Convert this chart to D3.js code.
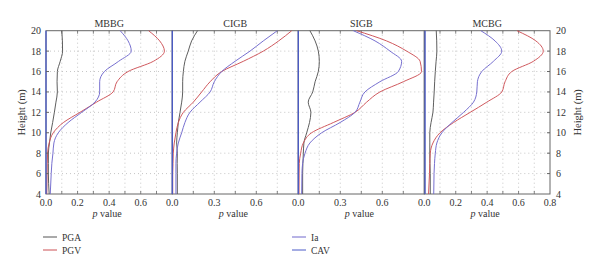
<!DOCTYPE html>
<html><head><meta charset="utf-8">
<script src="https://cdn.jsdelivr.net/npm/d3@7"></script>
<style>body{margin:0;background:#fff}svg{display:block;font-family:"Liberation Serif","DejaVu Serif",serif}</style>
</head><body><svg id="c" width="600" height="273"></svg>
<script>
const panels = ["MBBG","CIGB","SIGB","MCBG"];
const xMax = [0.8, 0.9, 0.9, 0.8];
const xTicks = [[0,0.2,0.4,0.6],[0,0.3,0.6],[0,0.3,0.6],[0,0.2,0.4,0.6,0.8]];
const xGridStep = [0.1, 0.15, 0.15, 0.1];
const yTicks = [4,6,8,10,12,14,16,18,20];
const heights = [4,6,7,8,9,10,11,12,13,14,15,16,17,18,19,20];
// PGA (grey)
const pga = [
 [0.02,0.015,0.015,0.015,0.022,0.03,0.042,0.053,0.063,0.072,0.07,0.072,0.09,0.105,0.104,0.1],
 [0.036,0.036,0.035,0.036,0.031,0.036,0.043,0.055,0.067,0.074,0.074,0.079,0.09,0.114,0.138,0.18],
 [0.031,0.031,0.033,0.036,0.04,0.06,0.08,0.09,0.071,0.103,0.12,0.143,0.15,0.143,0.12,0.083],
 [0.038,0.038,0.036,0.035,0.035,0.035,0.043,0.055,0.059,0.063,0.066,0.07,0.075,0.08,0.079,0.076]
];
// PGV (red)
const pgv = [
 [0.005,0.007,0.008,0.01,0.02,0.046,0.11,0.215,0.32,0.425,0.45,0.52,0.68,0.75,0.72,0.65],
 [0.003,0.003,0.005,0.007,0.014,0.026,0.043,0.079,0.15,0.21,0.27,0.353,0.507,0.65,0.76,0.853],
 [0.005,0.006,0.007,0.017,0.036,0.095,0.25,0.405,0.488,0.583,0.75,0.88,0.87,0.774,0.63,0.417],
 [0.027,0.033,0.035,0.038,0.055,0.1,0.186,0.292,0.398,0.493,0.514,0.557,0.694,0.757,0.71,0.59]
];
// Ia (purple)
const ia = [
 [0.027,0.033,0.037,0.044,0.05,0.078,0.14,0.226,0.31,0.34,0.34,0.37,0.46,0.54,0.52,0.47],
 [0.026,0.026,0.026,0.031,0.043,0.067,0.09,0.126,0.198,0.27,0.3,0.353,0.448,0.555,0.65,0.75],
 [0.024,0.026,0.031,0.048,0.083,0.167,0.298,0.405,0.44,0.476,0.583,0.714,0.738,0.655,0.548,0.393],
 [0.06,0.062,0.065,0.07,0.08,0.112,0.176,0.25,0.313,0.334,0.338,0.366,0.44,0.493,0.45,0.36]
];
// CAV (blue)
const cav = [
 [0,0,0,0,0,0,0,0,0,0,0,0,0,0,0,0],
 [0,0,0,0,0,0,0,0,0,0,0,0,0,0,0,0],
 [0,0,0,0,0,0,0,0,0,0,0,0,0,0,0,0],
 [0.005,0.005,0.005,0.005,0.005,0.005,0.005,0.005,0.005,0.005,0.005,0.005,0.005,0.005,0.005,0.005]
];
const seriesNames = ["PGA","PGV","Ia","CAV"];
const seriesData = [pga, pgv, ia, cav];
const colors = ["#555555","#cc5055","#7068cc","#4a5bc8"];

const svg = d3.select("#c");
const edges = [46, 172.3, 298.3, 424.3, 550];
const yTop = 30.7, yBot = 194;
const y = d3.scaleLinear().domain([4,20]).range([yBot, yTop]);

panels.forEach((name, i) => {
  const x = d3.scaleLinear().domain([0, xMax[i]]).range([edges[i], edges[i+1]]);
  const g = svg.append("g");
  const gx = d3.range(xGridStep[i], xMax[i] - 1e-6, xGridStep[i]);
  g.selectAll(".gv").data(gx).join("line")
    .attr("x1", d => x(d)).attr("x2", d => x(d)).attr("y1", yTop).attr("y2", yBot)
    .attr("stroke", "#b8b8b8").attr("stroke-width", 0.8).attr("stroke-dasharray", "1,3");
  g.selectAll(".gh").data(yTicks.slice(1, -1)).join("line")
    .attr("x1", edges[i]).attr("x2", edges[i+1]).attr("y1", d => y(d)).attr("y2", d => y(d))
    .attr("stroke", "#b8b8b8").attr("stroke-width", 0.8).attr("stroke-dasharray", "1,3");
  g.selectAll(".tb").data(gx).join("line")
    .attr("x1", d => x(d)).attr("x2", d => x(d)).attr("y1", yBot).attr("y2", yBot - 3)
    .attr("stroke", "#666").attr("stroke-width", 0.8);
  g.selectAll(".tt").data(gx).join("line")
    .attr("x1", d => x(d)).attr("x2", d => x(d)).attr("y1", yTop).attr("y2", yTop + 3)
    .attr("stroke", "#666").attr("stroke-width", 0.8);
  g.append("rect").attr("x", edges[i]).attr("y", yTop).attr("width", edges[i+1]-edges[i]).attr("height", yBot-yTop)
    .attr("fill", "none").attr("stroke", "#666").attr("stroke-width", 1);
  g.selectAll(".xl").data(xTicks[i]).join("text")
    .attr("x", d => x(d)).attr("y", yBot + 12).attr("text-anchor", "middle")
    .attr("font-size", 10).attr("fill", "#333").text(d => d3.format(".1f")(d));
  const xl = g.append("text").attr("x", (edges[i]+edges[i+1])/2 - 2).attr("y", 217)
    .attr("text-anchor", "middle").attr("font-size", 10).attr("fill", "#333");
  xl.append("tspan").attr("font-style", "italic").text("p");
  xl.append("tspan").text(" value");
  g.append("text").attr("x", (edges[i]+edges[i+1])/2).attr("y", 27).attr("text-anchor", "middle")
    .attr("font-size", 10).attr("fill", "#333").text(name);
  const line = d3.line().x(d => x(d[0])).y(d => y(d[1])).curve(d3.curveMonotoneY);
  seriesData.forEach((s, k) => {
    const pts = heights.map((h, j) => [s[i][j], h]);
    g.append("path").attr("d", line(pts)).attr("fill", "none")
      .attr("stroke", colors[k]).attr("stroke-width", k === 3 ? 1.3 : 0.95);
  });
});

const yl = svg.append("g");
yl.selectAll(".yl").data(yTicks).join("text")
  .attr("x", 41).attr("y", d => y(d) + 3.5).attr("text-anchor", "end")
  .attr("font-size", 10).attr("fill", "#333").text(d => d);
yl.selectAll(".yr").data(yTicks).join("text")
  .attr("x", 556).attr("y", d => y(d) + 3.5).attr("text-anchor", "start")
  .attr("font-size", 10).attr("fill", "#333").text(d => d);
yl.selectAll(".ytl").data(yTicks.slice(1,-1)).join("line")
  .attr("x1", 46).attr("x2", 49).attr("y1", d => y(d)).attr("y2", d => y(d)).attr("stroke", "#666");
yl.selectAll(".ytr").data(yTicks.slice(1,-1)).join("line")
  .attr("x1", 550).attr("x2", 547).attr("y1", d => y(d)).attr("y2", d => y(d)).attr("stroke", "#666");
svg.append("text").attr("transform", `translate(25,${(yTop+yBot)/2}) rotate(-90)`)
  .attr("text-anchor", "middle").attr("font-size", 10.5).attr("fill", "#333").text("Height (m)");
svg.append("text").attr("transform", `translate(581,${(yTop+yBot)/2}) rotate(-90)`)
  .attr("text-anchor", "middle").attr("font-size", 10.5).attr("fill", "#333").text("Height (m)");

const legPos = [[43,237],[43,250],[292,237],[292,250]];
const leg = svg.append("g");
seriesNames.forEach((n, k) => {
  const [lx, ly] = legPos[k];
  leg.append("line").attr("x1", lx).attr("x2", lx+14).attr("y1", ly).attr("y2", ly)
    .attr("stroke", colors[k]).attr("stroke-width", 1);
  leg.append("text").attr("x", lx+19).attr("y", ly+3.5).attr("font-size", 9.5).attr("fill", "#333").text(n);
});
</script></body></html>
